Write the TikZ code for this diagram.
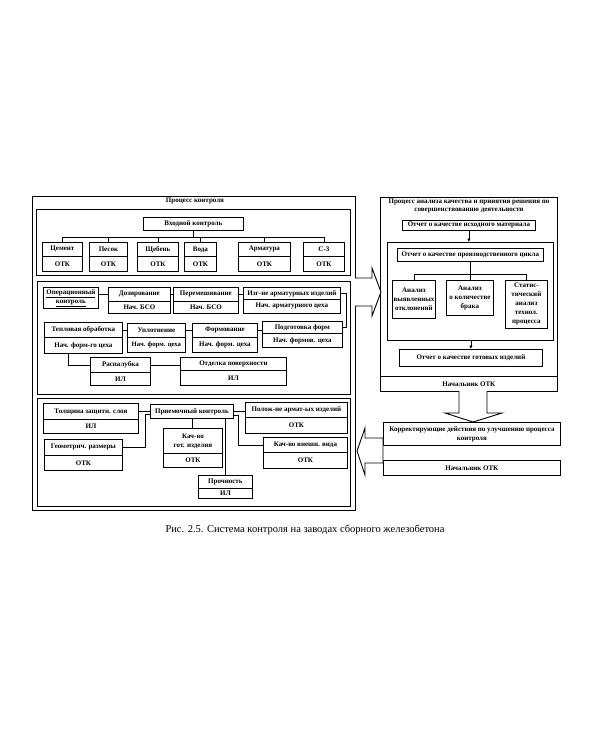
\documentclass[tikz,border=0pt]{standalone}
\usepackage{fontspec}
\setmainfont{Liberation Serif}
\usetikzlibrary{arrows.meta,calc}
\newcommand\fs{\fontsize{7}{9}\selectfont\bfseries}
\newcommand\bxx[6]{\node[box, minimum width={#4pt-#2pt}, minimum height={#5pt-#3pt}] (#1) at (#2,#3) {#6};}
\newcommand\gxx[5]{\node[grp, minimum width={#4pt-#2pt}, minimum height={#5pt-#3pt}] (#1) at (#2,#3) {};}
\begin{document}
\begin{tikzpicture}[x=1pt,y=-1pt,line width=0.8pt,
  box/.style={draw, inner sep=0pt, anchor=north west, align=center, font=\fs},
  grp/.style={draw, line width=1pt, inner sep=0pt, anchor=north west},
  ttl/.style={font=\fontsize{7}{8}\selectfont\bfseries, align=center, inner sep=0pt},
  conn/.style={line width=0.8pt},
  sarr/.style={line width=0.8pt, -{Latex[length=3.5pt,width=3.5pt]}},
  bigarr/.style={draw, line width=0.9pt, fill=white, line join=miter}]
\useasboundingbox (0,0) rectangle (600,750);
\fill[white] (0,0) rectangle (600,750);

% ---------- left: Процесс контроля ----------
\gxx{outL}{32}{196}{355}{510}
\node[ttl] (tL) at (195,201) {Процесс контроля};

% group 1
\gxx{g1}{36}{209}{350}{275}
\bxx{vk}{143}{217}{243}{230}{Входной контроль}
\bxx{cem}{42}{242}{82}{256}{Цемент}
\bxx{cemb}{42}{256}{82}{271}{ОТК}
\bxx{pes}{89}{242}{127}{256}{Песок}
\bxx{pesb}{89}{256}{127}{271}{ОТК}
\bxx{sch}{137}{242}{178}{256}{Щебень}
\bxx{schb}{137}{256}{178}{271}{ОТК}
\bxx{vod}{184}{242}{216}{256}{Вода}
\bxx{vodb}{184}{256}{216}{271}{ОТК}
\bxx{arm}{238}{242}{290}{256}{Арматура}
\bxx{armb}{238}{256}{290}{271}{ОТК}
\bxx{cthree}{303}{242}{344}{256}{С-3}
\bxx{cthreeb}{303}{256}{344}{271}{ОТК}
\coordinate (busA) at (196,237);
\draw[conn] (vk.south) -- (vk.south |- busA);
\draw[conn] (cem.north) -- (cem.north |- busA) -- (cthree.north |- busA) -- (cthree.north);
\draw[conn] (pes.north) -- (pes.north |- busA);
\draw[conn] (sch.north) -- (sch.north |- busA);
\draw[conn] (vod.north) -- (vod.north |- busA);
\draw[conn] (arm.north) -- (arm.north |- busA);

% group 2
\gxx{g2}{37}{281}{350}{394}
\bxx{opk}{43}{287}{98}{308}{\underline{Операционный}\\\underline{контроль}}
\bxx{doz}{108}{287}{170}{301}{Дозирование}
\bxx{dozb}{108}{301}{170}{313}{Нач. БСО}
\bxx{per}{173}{287}{238}{301}{Перемешивание}
\bxx{perb}{173}{301}{238}{313}{Нач. БСО}
\bxx{izg}{243}{287}{340}{299}{Изг-не арматурных изделий}
\bxx{izgb}{243}{299}{340}{313}{Нач. арматурного цеха}
\bxx{tep}{44}{322}{122}{337}{Тепловая обработка}
\bxx{tepb}{44}{337}{122}{353}{Нач. форм-го цеха}
\bxx{upl}{127}{323}{185}{337}{Уплотнение}
\bxx{uplb}{127}{337}{185}{352}{\fontsize{6.7}{8}\selectfont\bfseries Нач. форм. цеха}
\bxx{frm}{192}{323}{257}{337}{Формование}
\bxx{frmb}{192}{337}{257}{352}{Нач. форм. цеха}
\bxx{pod}{262}{321}{342}{333}{Подготовка форм}
\bxx{podb}{262}{333}{342}{347}{Нач. формов. цеха}
\bxx{ras}{90}{357}{150}{372}{Распалубка}
\bxx{rasb}{90}{372}{150}{385}{ИЛ}
\bxx{otd}{180}{357}{286}{370}{Отделка поверхности}
\bxx{otdb}{180}{370}{286}{385}{ИЛ}
\draw[conn] (opk.east |- doz.west) -- (doz.west);
\draw[conn] (doz.east) -- (per.west);
\draw[conn] (per.east) -- (per.east -| izg.west);
\coordinate (xr) at (346,0);
\draw[conn] (izg.east) -- (izg.east -| xr) |- (pod.east);
\draw[conn] (tep.east) -- (tep.east -| upl.west);
\draw[conn] (upl.east) -- (upl.east -| frm.west);
\draw[conn] (frm.east) -- (frm.east -| pod.west);
\coordinate (tx) at (68,0);
\draw[conn] (tepb.south -| tx) |- (ras.west);
\draw[conn] (ras.east) -- (ras.east -| otd.west);

% group 3
\gxx{g3}{37}{398}{350}{506}
\bxx{tol}{43}{403}{138}{419}{Толщина защитн. слоя}
\bxx{tolb}{43}{419}{138}{433}{ИЛ}
\bxx{prm}{150}{404}{233}{418}{Приемочный контроль}
\bxx{kach}{163}{428}{222}{453}{Кач-во\\гот. изделия}
\bxx{kachb}{163}{453}{222}{467}{ОТК}
\bxx{geo}{44}{439}{122}{455}{Геометрич. размеры}
\bxx{geob}{44}{455}{122}{470}{ОТК}
\bxx{pro}{198}{475}{252}{488}{Прочность}
\bxx{prob}{198}{488}{252}{498}{ИЛ}
\bxx{pol}{245}{402}{347}{417}{Полож-не армат-ых изделий}
\bxx{polb}{245}{417}{347}{433}{ОТК}
\bxx{vid}{263}{437}{347}{452}{Кач-во внешн. вида}
\bxx{vidb}{263}{452}{347}{468}{ОТК}
\draw[conn] (tol.east) -- (tol.east -| prm.west);
\coordinate (g1c) at (145,414);
\draw[conn] (geo.east) -| (g1c) -- (g1c -| prm.west);
\draw[conn] (prm.south) -- (prm.south |- kach.north);
\draw[conn] (pro.north |- prm.south) -- (pro.north);
\draw[conn] (prm.east) -- (prm.east -| pol.west);
\coordinate (p1) at (238,415);
\draw[conn] (p1 -| prm.east) -- (p1) |- (vid.west);

% ---------- right ----------
\bxx{ana}{380}{197}{557}{376}{}
\bxx{nachA}{380}{376}{557}{391}{Начальник ОТК}
\node[ttl] (tR) at (469,205.5) {Процесс анализа качества и принятия решения по\\совершенствованию деятельности};
\bxx{oim}{402}{220}{535}{230}{Отчет о качестве исходного материала}
\node[grp, line width=0.8pt, minimum width=166pt, minimum height=98pt] (cyc) at (387,242) {};
\bxx{opc}{397}{248}{543}{261}{Отчет о качестве производственного цикла}
\bxx{anA}{392}{280}{435}{318}{Анализ\\выявленных\\отклонений}
\bxx{anB}{446}{280}{493}{315}{Анализ\\о количестве\\брака}
\bxx{anC}{505}{280}{547}{328}{Статис-\\тический\\анализ\\технол.\\процесса}
\bxx{ogi}{399}{349}{542}{366}{Отчет о качестве готовых изделий}
\bxx{kor}{383}{422}{560}{445}{Корректирующие действия по улучшению процесса\\контроля}
\bxx{nachB}{383}{460}{560}{475}{Начальник ОТК}
\draw[sarr] (oim.south) -- (oim.south |- cyc.north);
\coordinate (busB) at (470,274);
\draw[conn] (opc.south) -- (opc.south |- busB);
\draw[conn] (anA.north) -- (anA.north |- busB) -- (anC.north |- busB) -- (anC.north);
\draw[conn] (anB.north) -- (anB.north |- busB);
\draw[sarr] (cyc.south -| ogi.north) -- (ogi.north);

% ---------- big hollow arrows ----------
\draw[bigarr] (355,278) -- (372,278) -- (372,268) -- (381,292) -- (372,316) -- (372,306) -- (355,306);
\draw[bigarr] (459,391) -- (459,413) -- (445,413) -- (473,422) -- (502,413) -- (487,413) -- (487,391);
\draw[bigarr] (383,438) -- (365,438) -- (365,428) -- (357,451) -- (365,475) -- (365,463) -- (383,463) -- cycle;

% caption
\node[font=\fontsize{10.5}{12}\selectfont, inner sep=0pt] (cap) at (305,530) {Рис. 2.5. Система контроля на заводах сборного железобетона};
\end{tikzpicture}
\end{document}
